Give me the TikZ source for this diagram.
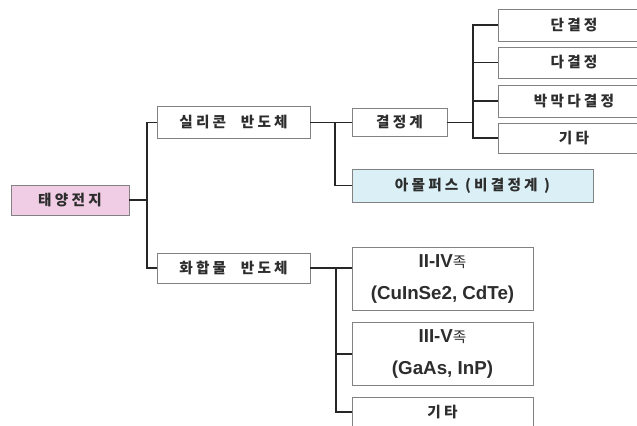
\documentclass[tikz,border=0pt]{standalone}
\usepackage{fontspec}
\setmainfont{Liberation Sans}
\newfontfamily\kr[LetterSpace=22]{Noto Sans CJK KR}
\usetikzlibrary{positioning}
\definecolor{sunpink}{RGB}{240,205,228}
\definecolor{amorblue}{RGB}{218,240,246}
\definecolor{boxgray}{RGB}{130,130,130}
\definecolor{txtgray}{RGB}{45,45,45}

\begin{document}
\begin{tikzpicture}[x=0.03cm,y=-0.03cm,
    box/.style={draw=boxgray,line width=0.8pt,fill=white,inner sep=0pt,font=\kr\bfseries\fontsize{12.5}{14}\selectfont,text=txtgray},
    latin/.style={align=center,font=\bfseries\fontsize{16}{28}\selectfont},
    link/.style={line width=1.1pt,draw=black!85}]
    \clip (0,0) rectangle (637,426);
    \fill[white] (0,0) rectangle (637,426);
    % root and first level
    \node[box,fill=sunpink,minimum width=3.54cm,minimum height=0.9cm] (sun) at (70,200) {태양전지};
    \node[box,minimum width=4.59cm,minimum height=0.96cm] (si) at (233.5,122.5) {실리콘\quad 반도체};
    \node[box,minimum width=4.59cm,minimum height=0.9cm] (comp) at (233.5,268) {화합물\quad 반도체};
    % silicon side
    \node[box,minimum width=2.85cm,minimum height=0.84cm] (cryst) at (399.5,122.5) {결정계};
    \node[box,fill=amorblue,minimum width=7.23cm,minimum height=0.99cm] (amor) at (472.5,185.5) {아몰퍼스 (비결정계 )};
    \node[box,minimum width=4.56cm,minimum height=0.96cm] (single) at (574,25) {단결정};
    \node[box,minimum width=4.56cm,minimum height=0.93cm] (poly) at (574,62.5) {다결정};
    \node[box,minimum width=4.56cm,minimum height=0.96cm] (thin) at (574,101) {박막다결정};
    \node[box,minimum width=4.56cm,minimum height=0.9cm] (etcsi) at (574,138) {기타};
    % compound side
    \node[box,latin,minimum width=5.43cm,minimum height=1.89cm] (twosix) at (442.5,279) {II-IV{\kr\mdseries\fontsize{12.5}{14}\selectfont 족}\\(CuInSe2, CdTe)};
    \node[box,latin,minimum width=5.43cm,minimum height=1.89cm] (threefive) at (442.5,354) {III-V{\kr\mdseries\fontsize{12.5}{14}\selectfont 족}\\(GaAs, InP)};
    \node[box,minimum width=5.43cm,minimum height=0.9cm] (etccomp) at (442.5,412) {기타};
    % connectors
    \coordinate (rootj) at (147,200);
    \coordinate (sij) at (335,122.5);
    \coordinate (crystj) at (473,122.5);
    \coordinate (compj) at (336,268);
    \draw[link] (sun.east) -- (rootj);
    \draw[link] (si.west) -| (rootj) |- (comp.west);
    \draw[link] (si.east) -- (cryst.west);
    \draw[link] (sij) |- (amor.west);
    \draw[link] (cryst.east) -- (crystj);
    \foreach \n in {single,poly,thin,etcsi}
      \draw[link] (crystj) |- (\n.west);
    \draw[link] (comp.east) -- (comp.east -| twosix.west);
    \draw[link] (compj) |- (threefive.west);
    \draw[link] (compj) |- (etccomp.west);
\end{tikzpicture}
\end{document}
